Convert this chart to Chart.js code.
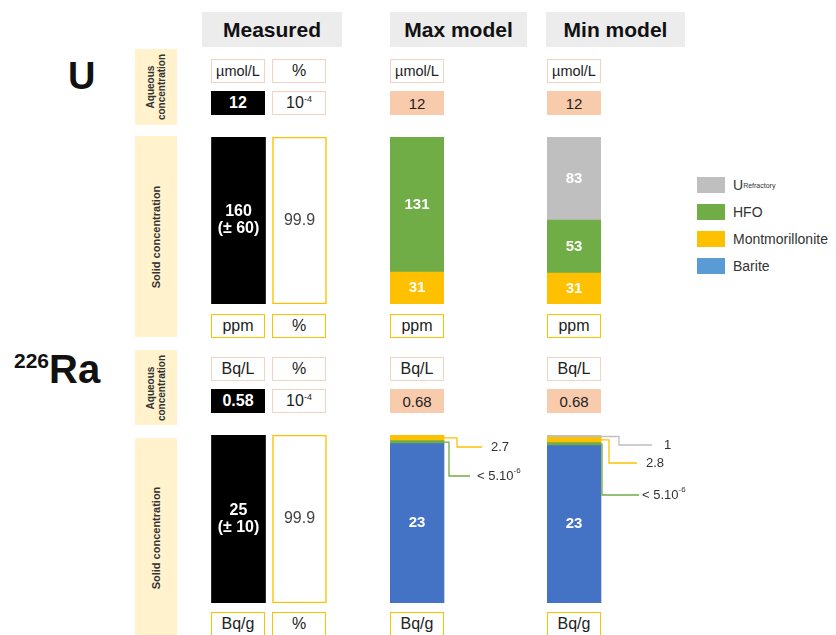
<!DOCTYPE html>
<html>
<head>
<meta charset="utf-8">
<script src="https://cdn.jsdelivr.net/npm/chart.js@4.4.1/dist/chart.umd.min.js"></script>
<style>
  body { margin: 0; background: #fff; font-family: "Liberation Sans", Arial, sans-serif; }
  #page { position: relative; width: 836px; height: 635px; overflow: hidden; }
  .abs { position: absolute; box-sizing: border-box; }
  .head { background: #ececec; font-weight: bold; font-size: 21px; color: #111;
          display: flex; align-items: center; justify-content: center; }
  .side { background: #fff2cc; }
  .side span { position: absolute; left: 50%; top: 50%; transform: translate(-50%, -50%) rotate(-90deg);
               font-weight: bold; white-space: nowrap; text-align: center; color: #333; }
  .side .aq { font-size: 10px; line-height: 11px; }
  .side .so { font-size: 11px; }
  .cell { display: flex; align-items: center; justify-content: center; font-size: 16px; color: #222; }
  .cell sup { font-size: 9px; vertical-align: 6px; }
  .unitA { border: 1px solid #f3d2c0; background: #fff; }
  .unitS { border: 1.5px solid #ffc000; background: #fff; }
  .black { background: #000; color: #fff; font-weight: bold; font-size: 16px; }
  .salmon { background: #f8cbad; font-size: 15px; }
  .big { font-weight: bold; font-size: 38px; color: #111; white-space: nowrap; }
  .big sup { font-size: 21px; vertical-align: 15px; }
  .leg { font-size: 14px; color: #333; display: flex; align-items: center; white-space: nowrap; }
  .leg sub { font-size: 7px; vertical-align: -3px; }
  canvas { position: absolute; }
</style>
</head>
<body>
<div id="page"></div>
<script>
// ---- data ----
const columns = ["Measured", "Max model", "Min model"];
const aqueousUnits = ["µmol/L", "Bq/L"];
const solidUnits = ["ppm", "Bq/g"];
const uAqueous = [12, 12, 12];
const raAqueous = [0.58, 0.68, 0.68];
const aqueousShareExp = -4; // measured share in water, 10^-4 %
const solidShare = 99.9;    // measured share in solid, %
const uMeasured = [160, 60]; // value, ± error (ppm)
const raMeasured = [25, 10]; // value, ± error (Bq/g)

const components = ["Refractory", "HFO", "Montmorillonite", "Barite"];
const uMaxModel = [0, 131, 31, 0];
const uMinModel = [83, 53, 31, 0];
const raMaxModel = [0, 5e-6, 2.7, 23];
const raMinModel = [1, 5e-6, 2.8, 23];
const uStack = ["Montmorillonite", "HFO", "Refractory"];
const raStack = ["Barite", "HFO", "Montmorillonite", "Refractory"];

const barColors = { Refractory: "#bfbfbf", HFO: "#70ad47", Montmorillonite: "#ffc000", Barite: "#4472c4" };
const legendColors = { Refractory: "#bfbfbf", HFO: "#70ad47", Montmorillonite: "#ffc000", Barite: "#5b9bd5" };

// ---- layout ----
const page = document.getElementById("page");
const colX = [211, 272, 390, 547];
const colW = 54;
const sections = [
  { aqUnit: 59, aqVal: 91, solid: 137, solidH: 167, solidUnit: 314, sideAq: [49, 76], sideSolid: [136, 201] },
  { aqUnit: 357, aqVal: 389, solid: 435, solidH: 168, solidUnit: 612, sideAq: [350, 75], sideSolid: [438, 200] },
];

function box(x, y, w, h, cls, html) {
  const d = document.createElement("div");
  d.className = "abs " + cls;
  d.style.left = x + "px"; d.style.top = y + "px";
  d.style.width = w + "px"; d.style.height = h + "px";
  d.innerHTML = html;
  page.appendChild(d);
  return d;
}

box(202, 12, 140, 35, "head", columns[0]);
box(390, 12, 137, 35, "head", columns[1]);
box(546, 12, 139, 35, "head", columns[2]);

box(68, 55, 40, 46, "big", "U");
const ra = box(14, 347, 120, 50, "big", "<sup>226</sup>Ra");
ra.style.fontSize = "40px";

function fmt(v) {
  if (v < 1e-3) {
    const e = Math.floor(Math.log10(v) + 1e-9);
    return "&lt; " + Math.round(v / Math.pow(10, e)) + ".10<sup>" + e + "</sup>";
  }
  return String(v);
}

sections.forEach((s, k) => {
  const aq = k === 0 ? uAqueous : raAqueous;
  box(135, s.sideAq[0], 42, s.sideAq[1], "side", "<span class='aq'>Aqueous<br>concentration</span>");
  box(135, s.sideSolid[0], 42, s.sideSolid[1], "side", "<span class='so'>Solid concentration</span>");
  [0, 1, 2, 3].forEach((c) => {
    const u = box(colX[c], s.aqUnit, colW, 24, "cell unitA", c === 1 ? "%" : aqueousUnits[k]);
    if (aqueousUnits[k].length > 5 && c !== 1) u.style.fontSize = "14.5px";
    box(colX[c], s.solidUnit, colW, 24, "cell unitS", c === 1 ? "%" : solidUnits[k]);
  });
  box(colX[0], s.aqVal, colW, 24, "cell black", String(aq[0]));
  box(colX[1], s.aqVal, colW, 24, "cell unitA", "<span>10<sup>" + aqueousShareExp + "</sup></span>");
  box(colX[2], s.aqVal, colW, 24, "cell salmon", String(aq[1]));
  box(colX[3], s.aqVal, colW, 24, "cell salmon", String(aq[2]));
});

// legend
["Refractory", "HFO", "Montmorillonite", "Barite"].forEach((name, i) => {
  const y = 177 + i * 27;
  const sw = box(697, y, 28, 16, "", "");
  sw.style.background = legendColors[name];
  box(733, y - 2, 110, 20, "leg", name === "Refractory" ? "U<sub>Refractory</sub>" : name);
});

// ---- Chart.js plugin: values inside bars, callouts beside thin segments ----
function drawRich(ctx, html, x, y) {
  const plain = html.replace("&lt;", "<");
  const m = plain.match(/^(.*?)<sup>(.*)<\/sup>$/);
  ctx.textAlign = "left";
  ctx.textBaseline = "middle";
  ctx.font = "13px 'Liberation Sans', Arial";
  if (!m) { ctx.fillText(plain, x, y); return; }
  ctx.fillText(m[1], x, y);
  const w = ctx.measureText(m[1]).width;
  ctx.font = "8px 'Liberation Sans', Arial";
  ctx.fillText(m[2], x + w, y - 5);
}

const barText = {
  id: "barText",
  afterDatasetsDraw(chart) {
    const ctx = chart.ctx;
    ctx.save();
    chart.data.datasets.forEach((ds, i) => {
      const meta = chart.getDatasetMeta(i);
      meta.data.forEach((el, j) => {
        const v = ds.data[j];
        if (v == null) return;
        const top = Math.min(el.y, el.base), h = Math.abs(el.base - el.y);
        const mid = top + h / 2;
        if (h >= 18) {
          const lines = ds.text || [String(v)];
          ctx.fillStyle = ds.textColor || "#fff";
          ctx.font = ds.textFont || "bold 15px 'Liberation Sans', Arial";
          ctx.textAlign = "center";
          ctx.textBaseline = "middle";
          lines.forEach((t, n) => ctx.fillText(t, el.x, mid + (n - (lines.length - 1) / 2) * 17));
        } else if (ds.callout) {
          const c = ds.callout;
          const x0 = el.x + el.width / 2;
          const ly = c.labelY;
          ctx.strokeStyle = ds.backgroundColor;
          ctx.lineWidth = 1.3;
          ctx.beginPath();
          ctx.moveTo(x0, mid);
          ctx.lineTo(x0 + c.elbow, mid);
          ctx.lineTo(x0 + c.elbow, ly);
          ctx.lineTo(x0 + c.end, ly);
          ctx.stroke();
          ctx.fillStyle = "#333";
          drawRich(ctx, fmt(v), x0 + c.textX, ly);
        }
      });
    });
    ctx.restore();
  },
};

function makeCanvas(left, top, w, h) {
  const cv = document.createElement("canvas");
  cv.width = w; cv.height = h;
  cv.style.left = left + "px"; cv.style.top = top + "px";
  page.appendChild(cv);
  return cv;
}

const hidden = { display: false };

function measuredChart(s, measured) {
  const cv = makeCanvas(208, s.solid, 122, s.solidH);
  new Chart(cv, {
    type: "bar",
    data: {
      labels: ["Measured", "%"],
      datasets: [
        { data: [measured[0], null], backgroundColor: "#000", yAxisID: "y",
          text: [String(measured[0]), "(± " + measured[1] + ")"], textFont: "bold 16px 'Liberation Sans', Arial" },
        { data: [null, solidShare], backgroundColor: "#fff", borderColor: "#ffc000", borderWidth: 1.5,
          borderSkipped: false, yAxisID: "yPct", textColor: "#444", textFont: "16px 'Liberation Sans', Arial" },
      ],
    },
    options: {
      responsive: false, animation: false,
      grouped: false, barThickness: 54,
      plugins: { legend: hidden, tooltip: { enabled: false } },
      layout: { padding: 0 },
      scales: {
        x: hidden,
        y: { display: false, min: 0, max: measured[0] },
        yPct: { display: false, min: 0, max: 100 },
      },
    },
    plugins: [barText],
  });
}

function modelChart(s, left, order, values, log, callouts) {
  const pad = log ? 130 : 0;
  const cv = makeCanvas(left, s.solid, colW + pad, s.solidH);
  const datasets = order
    .map((name) => ({
      label: name,
      data: [values[components.indexOf(name)]],
      backgroundColor: barColors[name],
      minBarLength: log ? 3 : 0,
      clip: false,
      callout: callouts[name],
    }))
    .filter((d) => d.data[0] > 0);
  const total = values.reduce((a, b) => a + b, 0);
  new Chart(cv, {
    type: "bar",
    data: { labels: ["solid"], datasets },
    options: {
      responsive: false, animation: false,
      barThickness: colW,
      plugins: { legend: hidden, tooltip: { enabled: false } },
      layout: { padding: { right: pad, top: log ? 3 : 0 } },
      scales: {
        x: { display: false, stacked: true },
        y: log
          ? { type: "logarithmic", display: false, stacked: true, min: 1, max: total }
          : { display: false, stacked: true, min: 0, max: total },
      },
    },
    plugins: [barText],
  });
}

measuredChart(sections[0], uMeasured);
measuredChart(sections[1], raMeasured);
modelChart(sections[0], colX[2], uStack, uMaxModel, false, {});
modelChart(sections[0], colX[3], uStack, uMinModel, false, {});
modelChart(sections[1], colX[2], raStack, raMaxModel, true, {
  Montmorillonite: { elbow: 13, labelY: 12, end: 38, textX: 47 },
  HFO: { elbow: 5, labelY: 41, end: 26, textX: 33 },
});
modelChart(sections[1], colX[3], raStack, raMinModel, true, {
  Refractory: { elbow: 18, labelY: 10, end: 51, textX: 63 },
  Montmorillonite: { elbow: 8, labelY: 28, end: 36, textX: 45 },
  HFO: { elbow: 1, labelY: 60, end: 38, textX: 41 },
});
</script>
</body>
</html>
